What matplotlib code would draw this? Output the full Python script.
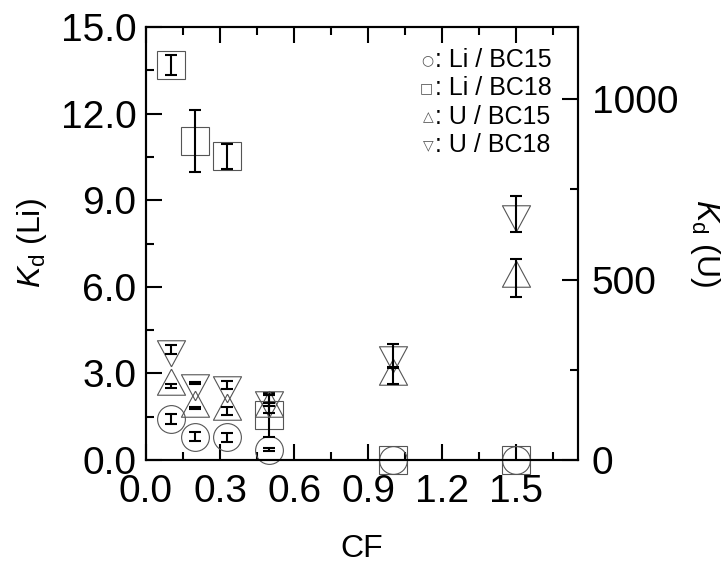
import matplotlib
matplotlib.use("Agg")
import matplotlib.pyplot as plt
from matplotlib.ticker import MultipleLocator, FormatStrFormatter

plt.rcParams['font.family'] = ['Liberation Sans', 'DejaVu Sans']
plt.rcParams['mathtext.fontset'] = 'custom'
plt.rcParams['mathtext.rm'] = 'Liberation Sans'
plt.rcParams['mathtext.it'] = 'Liberation Sans:italic'

# Li distribution coefficients (left axis)
cf = [0.1, 0.2, 0.33, 0.5, 1.0, 1.5]
li_bc15 = [1.42, 0.81, 0.78, 0.36, 0.0, 0.0]
li_bc15_err = [0.17, 0.15, 0.15, 0.05, 0.0, 0.0]
li_bc18 = [13.68, 11.05, 10.52, 1.56, 0.0, 0.0]
li_bc18_err = [0.35, 1.07, 0.43, 0.76, 0.0, 0.0]

# U distribution coefficients (right axis)
u_bc15 = [205, 144, 136, 145, 234, 505]
u_bc15_err = [6, 4, 11, 14, 22, 53]
u_bc18 = [307, 213, 208, 165, 290, 682]
u_bc18_err = [12, 3, 11, 14, 31, 49]

legend_sym = ["○", "□", "△", "▽"]
legend_txt = [": Li / BC15", ": Li / BC18", ": U / BC15", ": U / BC18"]

# triangles centred on their centroid, like Origin does
tri_up = [(0, 17.3), (-14, -8.7), (14, -8.7), (0, 17.3)]
tri_dn = [(0, -17.3), (-14, 8.7), (14, 8.7), (0, -17.3)]

fig = plt.figure(figsize=(7.28, 5.75), dpi=100)
ax = fig.add_axes([146 / 728, 115 / 575, 432 / 728, 433 / 575])
ax2 = ax.twinx()

mk = dict(linestyle='none', mfc='none', mec='#555555', mew=0.8, clip_on=False)
eb = dict(fmt='none', ecolor='black', elinewidth=1.5, capsize=4.5, capthick=1.5)


def errs(a, x, y, e):
    # skip points without an error bar
    keep = [i for i in range(len(x)) if e[i] > 0]
    a.errorbar([x[i] for i in keep], [y[i] for i in keep],
               yerr=[e[i] for i in keep], **eb)


ax.plot(cf, li_bc15, marker='o', ms=20, **mk)
ax.plot(cf, li_bc18, marker='s', ms=20.5, **mk)
errs(ax, cf, li_bc15, li_bc15_err)
errs(ax, cf, li_bc18, li_bc18_err)

ax2.plot(cf, u_bc15, marker=tri_up, ms=25, **mk)
ax2.plot(cf, u_bc18, marker=tri_dn, ms=25, **mk)
errs(ax2, cf, u_bc15, u_bc15_err)
errs(ax2, cf, u_bc18, u_bc18_err)

ax.set_xlim(0, 1.75)
ax.set_ylim(0, 15)
ax2.set_ylim(0, 1200)

ax.xaxis.set_major_locator(MultipleLocator(0.3))
ax.xaxis.set_minor_locator(MultipleLocator(0.15))
ax.yaxis.set_major_locator(MultipleLocator(3))
ax.yaxis.set_minor_locator(MultipleLocator(1.5))
ax.xaxis.set_major_formatter(FormatStrFormatter('%.1f'))
ax.yaxis.set_major_formatter(FormatStrFormatter('%.1f'))
ax2.yaxis.set_major_locator(MultipleLocator(500))
ax2.yaxis.set_minor_locator(MultipleLocator(250))

for a in (ax, ax2):
    for s in a.spines.values():
        s.set_linewidth(1.5)
ax.tick_params(which='both', direction='in', top=True, right=False, width=1.5, labelsize=28)
ax.tick_params(which='major', length=11.5)
ax.tick_params(which='minor', length=5.8)
ax.tick_params(axis='x', pad=10)
ax.tick_params(axis='y', pad=7)
ax2.tick_params(which='both', direction='in', width=1.5, labelsize=28, pad=10)
ax2.tick_params(which='major', length=11.5)
ax2.tick_params(which='minor', length=5.8)

ax.set_xlabel("CF", fontsize=23)
ax.xaxis.set_label_coords(0.5, -0.17)
ax.set_ylabel(r"$K_\mathrm{d}$ (Li)", fontsize=23)
ax.yaxis.set_label_coords(-0.225, 0.5)
ax2.set_ylabel(r"$K_\mathrm{d}$ (U)", fontsize=23, rotation=270, va='bottom')
ax2.yaxis.set_label_coords(1.255, 0.5)

ys = [0.924, 0.859, 0.792, 0.727]
for sym, txt, y in zip(legend_sym, legend_txt, ys):
    ax.text(0.665, y, sym, transform=ax.transAxes, ha='right', va='center',
            fontsize=10, color='#555555', family='DejaVu Sans')
    ax.text(0.669, y, txt, transform=ax.transAxes, ha='left', va='center', fontsize=18)

fig.savefig("out.png", dpi=100)
